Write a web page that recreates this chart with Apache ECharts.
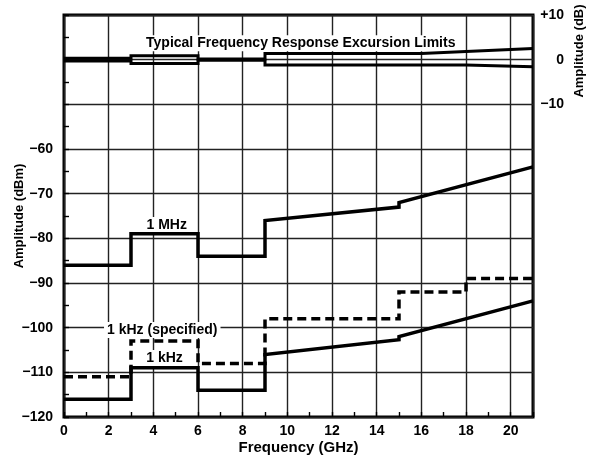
<!DOCTYPE html>
<html>
<head>
<meta charset="utf-8">
<script src="https://cdn.jsdelivr.net/npm/echarts@6/dist/echarts.min.js"></script>
<style>
html,body{margin:0;padding:0;background:#fff;}
#chart{width:593px;height:461px;}
</style>
</head>
<body>
<div id="chart"></div>
<script>
// 1 MHz 曲线 (dBm)
var mhz1Data = [[0,-86],[3,-86],[3,-79],[6,-79],[6,-84],[9,-84],[9,-76],[15,-73],[15,-72],[21,-64]];
// 1 kHz (specified) 虚线
var khzSpecData = [[0,-111],[3,-111],[3,-103],[6,-103],[6,-108],[9,-108],[9,-98],[15,-98],[15,-92],[18,-92],[18,-89],[21,-89]];
// 1 kHz 实线
var khz1Data = [[0,-116],[3,-116],[3,-109],[6,-109],[6,-114],[9,-114],[9,-106],[15,-102.7],[15,-102],[21,-94]];
// 频响上下限 (dB)
var bandUpper = [[0,0.3],[3,0.3],[3,0.85],[6,0.85],[6,0.15],[9,0.15],[9,1.4],[16,1.4],[21,2.5]];
var bandLower = [[0,-0.3],[3,-0.3],[3,-0.85],[6,-0.85],[6,-0.15],[9,-0.15],[9,-1.2],[18,-1.2],[21,-1.6]];

var FONT = "'Liberation Sans', Arial, sans-serif";

function minus(v){
	if(v < 0) return "\u2212" + Math.abs(v);
	return "" + v;
}

function lineSeries(data, yIdx, dashed, labelText, labelCoord){
	var s = {
		type: "line",
		data: data,
		yAxisIndex: yIdx,
		symbol: "none",
		silent: true,
		z: 5,
		lineStyle: {color: "#000", width: yIdx == 1 ? 3 : 3.5, type: dashed ? [9,5] : "solid", join: "miter"}
	};
	if(labelText){
		s.markPoint = {
			symbol: "circle",
			symbolSize: 0,
			silent: true,
			label: {
				show: true, position: "inside", formatter: labelText,
				color: "#000", fontFamily: FONT, fontWeight: "bold", fontSize: 14,
				backgroundColor: "#fff", padding: [1,3]
			},
			data: [{coord: labelCoord}]
		};
	}
	return s;
}

function drawChart(){
	var myChart = echarts.init(document.getElementById("chart"));
	var labelStyle = {color: "#000", fontFamily: FONT, fontWeight: "bold", fontSize: 14};
	var option = {
		animation: false,
		backgroundColor: "#fff",
		grid: {left: 64, right: 60, top: 15, bottom: 44, outerBoundsMode: "none", containLabel: false,
			show: true, borderColor: "#000", borderWidth: 3, backgroundColor: "transparent"},
		xAxis: [{
			type: "value", min: 0, max: 21, interval: 2,
			name: "Frequency (GHz)", nameLocation: "middle", nameGap: 23, nameMoveOverlap: false,
			nameTextStyle: {color: "#000", fontFamily: FONT, fontWeight: "bold", fontSize: 15},
			axisLine: {show: false}, axisTick: {show: false},
			axisLabel: echarts.util.extend({margin: 7,
				formatter: function(v){ return v > 20 ? "" : v; }}, labelStyle),
			splitLine: {show: true, lineStyle: {color: "#222", width: 1.4}}
		},{
			// 奇数 GHz 小刻度
			type: "value", min: 0, max: 21, interval: 1, position: "bottom",
			axisLine: {show: false}, axisLabel: {show: false}, splitLine: {show: false},
			axisTick: {show: true, inside: true, length: 5, lineStyle: {color: "#000", width: 1.4}}
		}],
		yAxis: [{
			type: "value", min: -120, max: -30, interval: 10, position: "left",
			name: "Amplitude (dBm)", nameLocation: "middle", nameGap: 38, nameMoveOverlap: false,
			nameTextStyle: {color: "#000", fontFamily: FONT, fontWeight: "bold", fontSize: 13},
			axisLine: {show: false}, axisTick: {show: false},
			axisLabel: echarts.util.extend({margin: 11,
				formatter: function(v){ return v <= -60 ? minus(v) : ""; }}, labelStyle),
			splitLine: {show: true, lineStyle: {color: "#222", width: 1.4}}
		},{
			type: "value", min: -80, max: 10, interval: 10, position: "right",
			axisLine: {show: false}, axisTick: {show: false}, splitLine: {show: false},
			axisLabel: echarts.util.extend({margin: 31, align: "right",
				formatter: function(v){
					if(v < -10) return "";
					return v > 0 ? "+" + v : minus(v);
				}}, labelStyle)
		},{
			// 5 dB 小刻度
			type: "value", min: -120, max: -30, interval: 5, position: "left",
			axisLine: {show: false}, axisLabel: {show: false}, splitLine: {show: false},
			axisTick: {show: true, inside: true, length: 5, lineStyle: {color: "#000", width: 1.4}}
		}],
		graphic: [{
			type: "text", x: 579, y: 51, rotation: Math.PI / 2,
			style: {text: "Amplitude (dB)", fill: "#000", font: "bold 13px " + FONT, textAlign: "center", textVerticalAlign: "middle"}
		}],
		series: [
			lineSeries(mhz1Data, 0, false, "1 MHz", [4.6, -77]),
			lineSeries(khzSpecData, 0, true, "1 kHz (specified)", [4.4, -100.5]),
			lineSeries(khz1Data, 0, false, "1 kHz", [4.5, -106.8]),
			lineSeries(bandUpper, 1, false, "Typical Frequency Response Excursion Limits", [10.6, 3.7]),
			lineSeries(bandLower, 1, false)
		]
	};
	myChart.setOption(option);
}

drawChart();
</script>
</body>
</html>
